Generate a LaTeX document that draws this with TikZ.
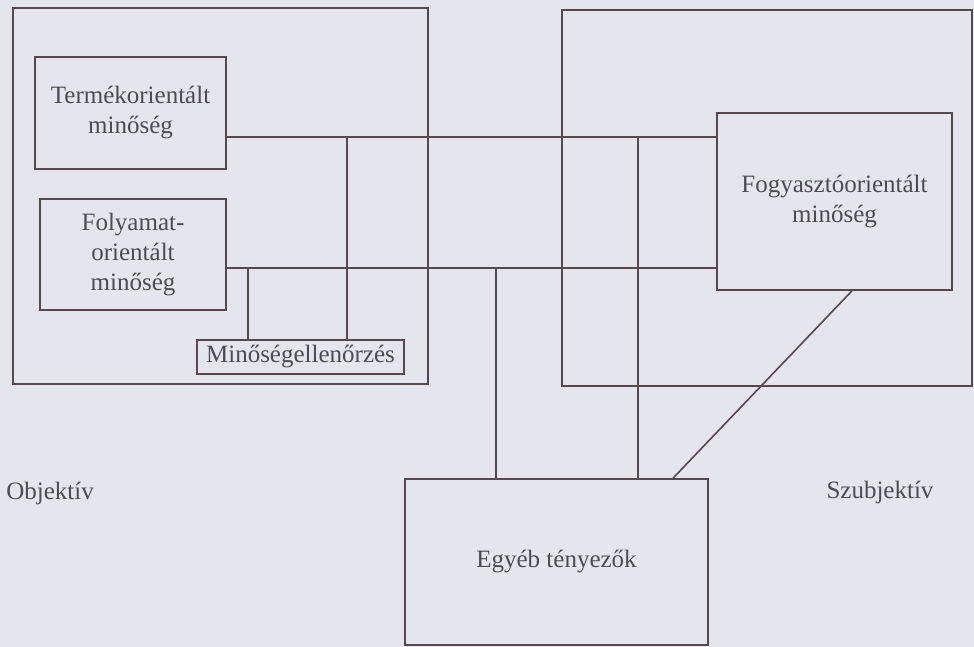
\documentclass[tikz,border=0pt]{standalone}
\usepackage{fontspec}
\setmainfont{Liberation Serif}
\usetikzlibrary{calc}
\definecolor{paper}{RGB}{229,230,237}
\definecolor{ink}{RGB}{88,72,78}
\definecolor{print}{RGB}{78,76,80}

\begin{document}
\begin{tikzpicture}[x=0.5pt, y=-0.5pt, line width=0.8pt,
  every node/.style={text=print, font=\fontsize{12.5}{15}\selectfont},
  frame/.style={draw=ink, rectangle, inner sep=0pt},
  box/.style={draw=ink, rectangle, align=center, inner sep=0pt},
  wire/.style={draw=ink}]

\fill[paper] (0,0) rectangle (974,647);
\useasboundingbox (0,0) rectangle (974,647);

\node[frame, minimum width=207.5pt, minimum height=188pt] (obj) at (220.5,196) {};
\node[frame, minimum width=205pt, minimum height=188pt] (szub) at (767,198) {};

\node[box, minimum width=95.5pt, minimum height=56pt] (termek) at (130.5,113) {Termékorientált\\minőség};
\node[box, minimum width=93pt, minimum height=55.5pt] (folyamat) at (133,254.5) {Folyamat-\\orientált\\minőség};
\node[box, minimum width=103.5pt, minimum height=17pt] (ellenorzes) at (300.5,357) {Minőségellenőrzés};
\node[box, minimum width=117.5pt, minimum height=88.5pt] (fogyaszto) at (834.5,201.5) {Fogyasztóorientált\\minőség};
\node[box, minimum width=151.5pt, minimum height=83pt] (egyeb) at (556.5,562) {Egyéb tényezők};

\node (objektiv) at (50,493) {Objektív};
\node (szubjektiv) at (880,492) {Szubjektív};

\coordinate (h1) at ([yshift=-12pt]termek.east);
\coordinate (h2) at ([yshift=-6.75pt]folyamat.east);

\draw[wire] (h1) -- (h1 -| fogyaszto.west);
\draw[wire] (h2) -- (h2 -| fogyaszto.west);
\draw[wire] ([xshift=23.25pt]ellenorzes.north) -- ([xshift=23.25pt]ellenorzes.north |- h1);
\draw[wire] ([xshift=-26.25pt]ellenorzes.north) -- ([xshift=-26.25pt]ellenorzes.north |- h2);
\draw[wire] ([xshift=40.75pt]egyeb.north) -- ([xshift=40.75pt]egyeb.north |- h1);
\draw[wire] ([xshift=-30.25pt]egyeb.north) -- ([xshift=-30.25pt]egyeb.north |- h2);
\draw[wire] ([xshift=8.75pt]fogyaszto.south) -- ([xshift=58.25pt]egyeb.north);
\end{tikzpicture}
\end{document}
